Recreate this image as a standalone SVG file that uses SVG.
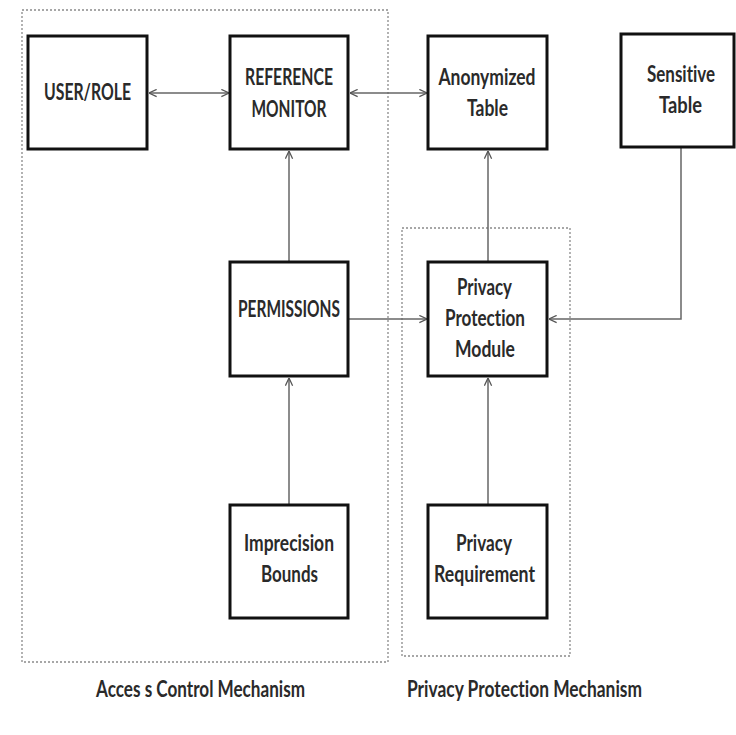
<svg xmlns="http://www.w3.org/2000/svg" width="736" height="735" viewBox="0 0 736 735">
<style>
.box{fill:#fff;stroke:#111;stroke-width:3}
.grp{fill:none;stroke:#8a8a8a;stroke-width:1.3;stroke-dasharray:2 2}
.con{fill:none;stroke:#666;stroke-width:1.5}
text{font-family:Lato,"Open Sans","Liberation Sans",sans-serif;font-size:23px;font-weight:bold;fill:#2a2a2a;text-anchor:middle;font-variant-ligatures:none}
</style>
<defs>
<marker id="arr" viewBox="0 0 10 10" refX="9.5" refY="5" markerWidth="9" markerHeight="9" markerUnits="userSpaceOnUse" orient="auto-start-reverse">
<path d="M1,1 L9.5,5 L1,9" fill="none" stroke="#555" stroke-width="1.4"/>
</marker>
</defs>
<rect width="736" height="735" fill="#fff"/>
<g id="groups">
<rect class="grp" x="22" y="10" width="366" height="652"/>
<rect class="grp" x="402" y="228" width="168" height="428"/>
</g>
<g id="connectors">
<line class="con" x1="149" y1="93" x2="229" y2="93" marker-start="url(#arr)" marker-end="url(#arr)"/>
<line class="con" x1="350" y1="93" x2="427" y2="93" marker-start="url(#arr)" marker-end="url(#arr)"/>
<line class="con" x1="289" y1="262" x2="289" y2="151" marker-end="url(#arr)"/>
<line class="con" x1="289" y1="505" x2="289" y2="378" marker-end="url(#arr)"/>
<line class="con" x1="348" y1="319" x2="427" y2="319" marker-end="url(#arr)"/>
<line class="con" x1="488" y1="262" x2="488" y2="151" marker-end="url(#arr)"/>
<polyline class="con" points="681,147 681,319 549,319" marker-end="url(#arr)"/>
<line class="con" x1="488" y1="505" x2="488" y2="378" marker-end="url(#arr)"/>
</g>
<g id="user-role">
<rect class="box" x="28" y="36" width="119" height="113"/>
<text x="87.5" y="100" textLength="87" lengthAdjust="spacingAndGlyphs">USER/ROLE</text>
</g>
<g id="reference-monitor">
<rect class="box" x="230" y="36" width="118" height="113"/>
<text x="289" y="85" textLength="88" lengthAdjust="spacingAndGlyphs">REFERENCE</text>
<text x="289" y="117" textLength="75" lengthAdjust="spacingAndGlyphs">MONITOR</text>
</g>
<g id="anonymized-table">
<rect class="box" x="428" y="36" width="119" height="113"/>
<text x="487" y="85" textLength="97" lengthAdjust="spacingAndGlyphs">Anonymized</text>
<text x="487.5" y="116" textLength="41" lengthAdjust="spacingAndGlyphs">Table</text>
</g>
<g id="sensitive-table">
<rect class="box" x="621" y="34" width="113" height="113"/>
<text x="681" y="82" textLength="68" lengthAdjust="spacingAndGlyphs">Sensitive</text>
<text x="680.5" y="113" textLength="43" lengthAdjust="spacingAndGlyphs">Table</text>
</g>
<g id="permissions">
<rect class="box" x="230" y="262" width="118" height="114"/>
<text x="289" y="317" textLength="102" lengthAdjust="spacingAndGlyphs">PERMISSIONS</text>
</g>
<g id="privacy-protection-module">
<rect class="box" x="428" y="262" width="119" height="114"/>
<text x="484.5" y="295" textLength="55" lengthAdjust="spacingAndGlyphs">Privacy</text>
<text x="485" y="326" textLength="80" lengthAdjust="spacingAndGlyphs">Protection</text>
<text x="485" y="357" textLength="60" lengthAdjust="spacingAndGlyphs">Module</text>
</g>
<g id="imprecision-bounds">
<rect class="box" x="230" y="505" width="118" height="113"/>
<text x="289" y="551" textLength="90" lengthAdjust="spacingAndGlyphs">Imprecision</text>
<text x="289.5" y="582" textLength="57" lengthAdjust="spacingAndGlyphs">Bounds</text>
</g>
<g id="privacy-requirement">
<rect class="box" x="428" y="505" width="119" height="113"/>
<text x="484" y="551" textLength="56" lengthAdjust="spacingAndGlyphs">Privacy</text>
<text x="484.5" y="582" textLength="101" lengthAdjust="spacingAndGlyphs">Requirement</text>
</g>
<g id="labels">
<text x="200.5" y="697" textLength="209" lengthAdjust="spacingAndGlyphs">Acces s Control Mechanism</text>
<text x="524.5" y="697" textLength="235" lengthAdjust="spacingAndGlyphs">Privacy Protection Mechanism</text>
</g>
</svg>
